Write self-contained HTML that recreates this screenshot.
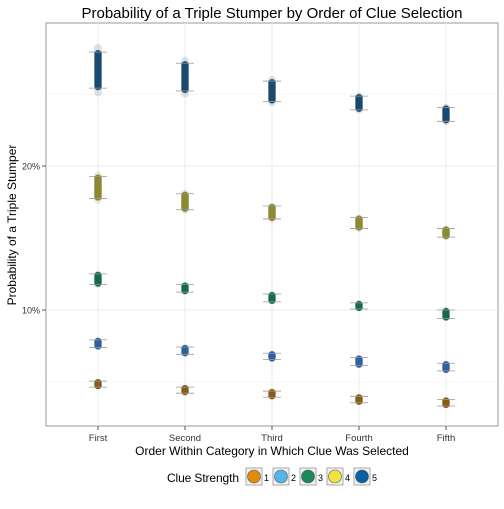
<!DOCTYPE html>
<html><head><meta charset="utf-8"><style>
body{margin:0;background:#fff}
svg text{font-family:"Liberation Sans",sans-serif}
</style></head><body>
<svg id="c" width="504" height="504" xmlns="http://www.w3.org/2000/svg">
<text x="272" y="18" text-anchor="middle" font-size="15" fill="#000">Probability of a Triple Stumper by Order of Clue Selection</text>
<rect x="46" y="23" width="452" height="403" fill="#fff" stroke="#999" stroke-width="1"/>
<g id="grid"></g><g id="marks"></g><g id="axes"></g>
<text transform="translate(16,225) rotate(-90)" text-anchor="middle" font-size="12">Probability of a Triple Stumper</text>
<text x="272" y="455" text-anchor="middle" font-size="12">Order Within Category in Which Clue Was Selected</text>
<g id="legend"></g>
</svg>
<script>
const categories=["First","Second","Third","Fourth","Fifth"];
const strengths=["1","2","3","4","5"];
const mid1=[7.0,6.8,6.7,6.5,6.4], lo1=[6.9,6.7,6.57,6.4,6.3], hi1=[7.1,6.9,6.77,6.6,6.5];
const mid2=[8.5,8.2,8.0,7.8,7.6], lo2=[8.35,8.08,7.88,7.65,7.46], hi2=[8.66,8.37,8.12,7.95,7.74];
const mid3=[11.6,11.1,10.6,10.2,9.8], lo3=[11.3,10.9,10.4,10.05,9.6], hi3=[11.9,11.3,10.8,10.35,10.0];
const mid4=[18.0,16.8,16.0,15.2,14.5], lo4=[17.1,16.2,15.5,14.8,14.2], hi4=[19.0,17.5,16.5,15.6,14.8];
const mid5=[31.7,30.7,28.7,27.1,25.6], lo5=[29.1,28.7,27.3,26.2,24.8], hi5=[34.6,32.8,30.1,28.0,26.5];
const yTicks=[10,20], yTickLabels=["10%","20%"], yMinor=[7.07,28.28];
const NS="http://www.w3.org/2000/svg";
function el(t,a,p){const e=document.createElementNS(NS,t);for(const k in a)e.setAttribute(k,a[k]);p.appendChild(e);return e;}
function X(i){return 98+i*87;}
function Y(p){return 310-144*Math.log2(p/10);}
const grid=document.getElementById('grid'),marks=document.getElementById('marks'),axes=document.getElementById('axes');
yMinor.forEach(v=>{const l=el('line',{x1:46,x2:498,y1:Y(v),y2:Y(v),stroke:'#f2f2f2','stroke-width':0.6},grid);
});
yTicks.forEach((v,i)=>{const l=el('line',{x1:46,x2:498,y1:Y(v),y2:Y(v),stroke:'#ebebeb','stroke-width':1},grid);

const t=el('line',{x1:42,x2:46,y1:Y(v),y2:Y(v),stroke:'#555'},axes);

const tx=el('text',{x:40,y:Y(v)+3.5,'text-anchor':'end','font-size':9,fill:'#333'},axes);tx.textContent=yTickLabels[i];
});
categories.forEach((c,i)=>{const l=el('line',{x1:X(i),x2:X(i),y1:23,y2:426,stroke:'#ebebeb','stroke-width':1},grid);

const t=el('line',{x1:X(i),x2:X(i),y1:426,y2:430,stroke:'#555'},axes);

const tx=el('text',{x:X(i),y:441,'text-anchor':'middle','font-size':9.5,fill:'#333'},axes);tx.textContent=c;
});
const series=[[mid1,lo1,hi1,'#8a5c0e'],[mid2,lo2,hi2,'#2e5f9e'],[mid3,lo3,hi3,'#136b4a'],[mid4,lo4,hi4,'#8c8a2c'],[mid5,lo5,hi5,'#184a72']];
series.forEach((s,k)=>{const [m,lo,hi,col]=s;
categories.forEach((c,i)=>{const x=X(i),yl=Y(lo[i]),yh=Y(hi[i]);const ext=(yl-yh)*0.2+1;
const h=el('rect',{x:x-4,y:yh-ext,width:8,height:yl-yh+2*ext,rx:4,fill:col,opacity:0.15},marks);

const r=el('rect',{x:x-3.5,y:yh-2,width:7,height:yl-yh+4,rx:3.5,fill:col,stroke:'#333','stroke-opacity':0.3,'stroke-width':0.5},marks);

[yl,yh].forEach(yy=>{const b=el('line',{x1:x-9,x2:x+9,y1:yy,y2:yy,stroke:'#999','stroke-width':0.8},marks);
});});});
const lg=document.getElementById('legend');
const lt=el('text',{x:167,y:482,'font-size':12,textLength:72},lg);lt.textContent='Clue Strength';

const lc=['#e08b0c','#56b4e9','#1a8a5a','#f0e442','#0b5fa5'];
strengths.forEach((s,i)=>{const x=254+i*27;
const b=el('rect',{x:x-8,y:468,width:16,height:17,fill:'#f2f2f2',stroke:'#aaa'},lg);

const ci=el('circle',{cx:x,cy:476.5,r:6.5,fill:lc[i],stroke:'#555','stroke-width':0.6},lg);

const t=el('text',{x:x+10,y:481,'font-size':9},lg);t.textContent=s;
});
</script>
</body></html>
